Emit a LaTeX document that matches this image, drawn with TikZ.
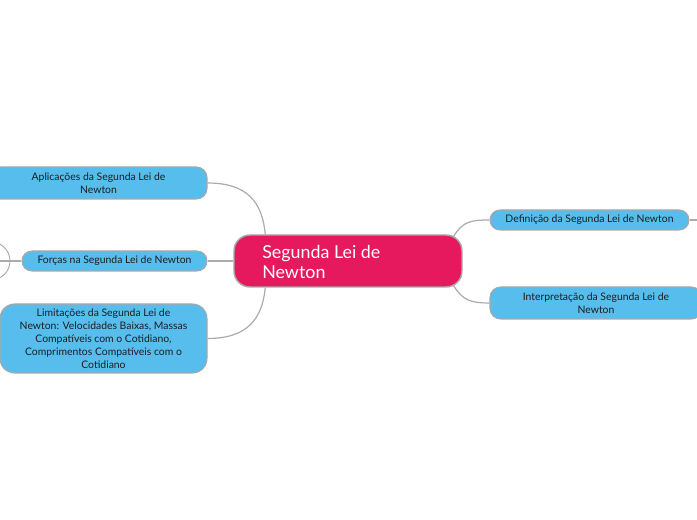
\documentclass[tikz,border=0pt]{standalone}
\usepackage{fontspec}
\setmainfont{Lato}
\usetikzlibrary{backgrounds,calc}
\definecolor{crimson}{HTML}{E6195E}
\definecolor{skyb}{HTML}{56BDEC}
\definecolor{bordg}{HTML}{A8A8A8}
\definecolor{lineg}{HTML}{ABABAB}
\definecolor{txt}{HTML}{1E1E1E}
\tikzset{
  topic/.style={draw=bordg, line width=1.1pt, fill=crimson, rounded corners=12pt,
    text=white, inner sep=0pt, align=left},
  sub/.style={draw=bordg, line width=0.8pt, fill=skyb, rounded corners=8pt,
    text=txt, inner sep=0pt, align=center,
    font=\fontsize{7.8}{9.7}\selectfont},
  conn/.style={draw=lineg, line width=0.9pt}
}
\begin{document}
\begin{tikzpicture}[x=0.75pt,y=-0.75pt]
\useasboundingbox (0,0) rectangle (697,520);
\node[topic, minimum width=228*0.75pt, minimum height=52*0.75pt] (central) at (348,261) {};
\node[text=white, align=left, anchor=west, inner sep=0pt,
  font=\fontsize{13.4}{15}\selectfont] (ctext) at (262,262) {Segunda Lei de\\Newton};
\node[sub, minimum width=217*0.75pt, minimum height=32*0.75pt] (apl) at (98.5,183) {Aplicações da Segunda Lei de\\Newton};
\node[sub, minimum width=185*0.75pt, minimum height=20*0.75pt, rounded corners=7.5pt] (forc) at (114.5,261) {Forças na Segunda Lei de Newton};
\node[sub, minimum width=207*0.75pt, minimum height=69*0.75pt, rounded corners=11pt] (lim) at (103.5,338.5) {Limitações da Segunda Lei de\\Newton: Velocidades Baixas, Massas\\Compatíveis com o Cotidiano,\\Comprimentos Compatíveis com o\\Cotidiano};
\node[sub, minimum width=199*0.75pt, minimum height=20*0.75pt, rounded corners=7.5pt] (defi) at (589.5,220) {Definição da Segunda Lei de Newton};
\node[sub, minimum width=212*0.75pt, minimum height=32*0.75pt] (interp) at (596,303) {Interpretação da Segunda Lei de\\Newton};
\coordinate (rend) at (697,220);
\coordinate (lend) at (0,261);
\coordinate (lc) at (-9,261);
\begin{scope}[on background layer]
  \draw[conn] ($(central.north west)+(32,0)$) .. controls ($(central.north west)+(29,-32)$) and ($(apl.east)+(40,0)$) .. (apl.east);
  \draw[conn] ($(central.south west)+(32,0)$) .. controls ($(central.south west)+(29,31)$) and ($(lim.east)+(40,0)$) .. (lim.east);
  \draw[conn] (central.west) -- (forc.east);
  \draw[conn] ($(central.north east)+(-9,2)$) .. controls ($(central.north east)+(0,-13)$) and ($(defi.west)+(-18,0)$) .. (defi.west);
  \draw[conn] ($(central.south east)+(-9,-2)$) .. controls ($(central.south east)+(0,13)$) and ($(interp.west)+(-18,0)$) .. (interp.west);
  \draw[conn] (defi.east) -- (rend);
  \draw[conn] (forc.west) -- (lend);
  \draw[conn, line width=0.7pt] (lc) circle[radius=19];
\end{scope}
\end{tikzpicture}
\end{document}
